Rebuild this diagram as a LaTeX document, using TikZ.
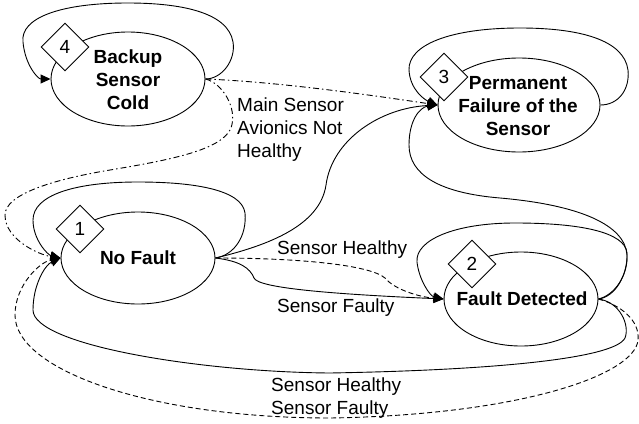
\documentclass[tikz,border=0pt]{standalone}
\usepackage{fontspec}
\setmainfont{Liberation Sans}
\usetikzlibrary{shapes.geometric,arrows.meta}
\begin{document}
\begin{tikzpicture}[x=1pt,y=-1pt,
  font=\fontsize{19}{23}\selectfont,
  state/.style={draw,ellipse,line width=0.9pt,inner sep=0pt},
  stext/.style={align=center,font=\fontsize{19}{23}\selectfont\bfseries,inner sep=0pt},
  num/.style={draw,diamond,fill=white,line width=0.9pt,minimum width=48pt,minimum height=48pt,inner sep=0pt},
  lbl/.style={align=left,anchor=west,inner sep=0pt},
  conn/.style={line width=0.9pt,-{Triangle[length=10pt,width=9pt]}},
  dashconn/.style={conn,dash pattern=on 5pt off 3pt},
  dotconn/.style={conn,dash pattern=on 6pt off 3pt on 1.5pt off 3pt}]
\useasboundingbox[fill=white] (0,0) rectangle (639,423);

% states
\node[state,minimum width=154pt,minimum height=94pt] (n4) at (128,79) {};
\node[state,minimum width=162pt,minimum height=94pt] (n3) at (519,105) {};
\node[state,minimum width=154pt,minimum height=92pt] (n1) at (138,258) {};
\node[state,minimum width=154pt,minimum height=94pt] (n2) at (521,299) {};

\node[stext] (t4) at (128,80) {Backup\\Sensor\\Cold};
\node[stext] (t3) at (518,106) {Permanent\\Failure of the\\Sensor};
\node[stext] (t1) at (138,258) {No Fault};
\node[stext] (t2) at (522,299) {Fault Detected};

% self loops
\draw[conn] (n4.east) .. controls (222,79) and (236,60) .. (233,42)
  .. controls (228,12) and (180,3) .. (128,3)
  .. controls (60,3) and (20,18) .. (23,42)
  .. controls (25,65) and (38,79) .. (n4.west);
\draw[conn] (n3.east) .. controls (618,105) and (630,90) .. (628,70)
  .. controls (624,40) and (580,28) .. (520,28)
  .. controls (450,28) and (408,45) .. (409,70)
  .. controls (410,90) and (425,100) .. (n3.west);
\draw[conn] (n1.east) .. controls (235,255) and (247,235) .. (245,213)
  .. controls (242,190) and (195,182) .. (138,182)
  .. controls (75,182) and (33,195) .. (33,220)
  .. controls (33,240) and (48,255) .. (n1.west);
\draw[conn] (n2.east) .. controls (615,297) and (628,275) .. (627,253)
  .. controls (625,232) and (580,223) .. (515,223)
  .. controls (455,223) and (415,240) .. (417,262)
  .. controls (419,280) and (430,296) .. (n2.west);

% transitions
\draw[dotconn] (n4.east) .. controls (280,82) and (370,95) .. (n3.west);
\draw[dotconn] (n4.east) .. controls (222,83) and (238,108) .. (231,128)
  .. controls (222,150) and (170,160) .. (110,170)
  .. controls (50,180) and (5,195) .. (5,215)
  .. controls (5,240) and (40,255) .. (n1.west);
\draw[conn] (n1.east) .. controls (270,245) and (320,225) .. (326,185)
  .. controls (332,140) and (380,108) .. (n3.west);
\draw[dashconn] (n1.east) .. controls (300,258) and (370,265) .. (385,278)
  .. controls (395,290) and (420,297) .. (n2.west);
\draw[conn] (n1.east) .. controls (240,261) and (250,268) .. (254,278)
  .. controls (258,288) and (330,294) .. (n2.west);
\draw[conn] (n2.east) .. controls (615,295) and (628,275) .. (627,255)
  .. controls (625,225) and (580,205) .. (500,198)
  .. controls (440,193) and (409,175) .. (409,145)
  .. controls (409,120) and (420,107) .. (n3.west);
\draw[conn] (n2.east) .. controls (620,302) and (630,325) .. (625,338)
  .. controls (615,358) and (500,370) .. (330,373)
  .. controls (200,372) and (33,345) .. (33,310)
  .. controls (33,285) and (45,265) .. (n1.west);
\draw[dashconn] (n2.east) .. controls (620,305) and (640,320) .. (638,340)
  .. controls (635,375) and (520,415) .. (330,418)
  .. controls (150,418) and (15,370) .. (15,315)
  .. controls (15,285) and (40,262) .. (n1.west);

% numbers
\node[num] (d4) at (65,47) {4};
\node[num] (d3) at (444,77) {3};
\node[num] (d2) at (472,264) {2};
\node[num] (d1) at (80,229) {1};

% labels
\node[lbl] (l1) at (237,130) {Main Sensor\\Avionics Not\\Healthy};
\node[lbl] (l2) at (277,250) {Sensor Healthy};
\node[lbl] (l3) at (277,308) {Sensor Faulty};
\node[lbl] (l4) at (271,398) {Sensor Healthy\\Sensor Faulty};
\end{tikzpicture}
\end{document}
